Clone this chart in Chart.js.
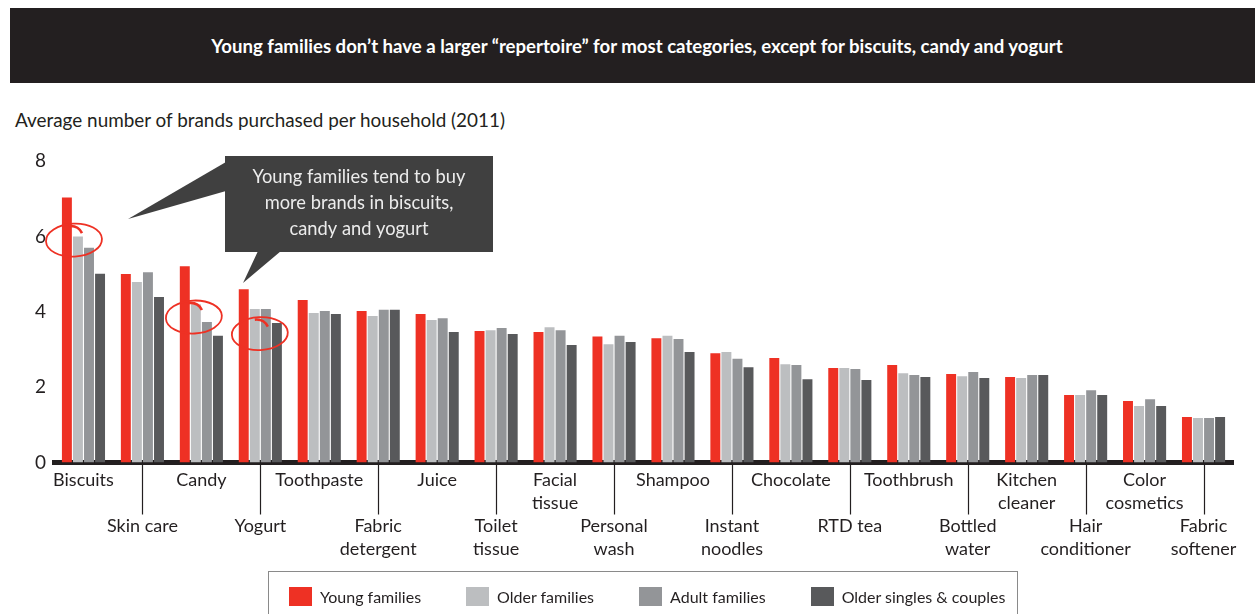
<!DOCTYPE html>
<html>
<head>
<meta charset="utf-8">
<title>Brand repertoire by life stage</title>
<script src="https://cdn.jsdelivr.net/npm/chart.js@4.4.0/dist/chart.umd.min.js"></script>
<style>
  body { margin: 0; width: 1255px; height: 614px; overflow: hidden; background: #fff;
         font-family: Lato, "Noto Sans", sans-serif; color: #231f20; position: relative; }
  #title { position: absolute; left: 10px; top: 8px; width: 1245px; height: 75px; background: #231f20;
           color: #fff; font-weight: bold; font-size: 18.6px; display: flex; align-items: center;
           justify-content: center; padding-left: 9px; box-sizing: border-box; }
  #ylabel { position: absolute; left: 15px; top: 108px; font-size: 18.9px; }
  #chart { position: absolute; left: 0; top: 0; }
  #legend { position: absolute; left: 268px; top: 571px; width: 750px; height: 60px;
            border: 1px solid #8a8a8a; box-sizing: border-box; display: flex; gap: 45px;
            padding: 15px 0 0 20px; }
  .item { font-size: 16px; line-height: 19px; white-space: nowrap; }
  .swatch { display: inline-block; width: 23px; height: 19px; vertical-align: top; margin-right: 8px; }
</style>
</head>
<body>
<div id="title">Young families don’t have a larger “repertoire” for most categories, except for biscuits, candy and yogurt</div>
<div id="ylabel">Average number of brands purchased per household (2011)</div>
<canvas id="chart" width="1255" height="614"></canvas>
<div id="legend"></div>
<script>
// 品类（x轴标签，按行拆分）
const categories = [
    ['Biscuits'], ['Skin care'], ['Candy'], ['Yogurt'], ['Toothpaste'],
    ['Fabric', 'detergent'], ['Juice'], ['Toilet', 'tissue'], ['Facial', 'tissue'], ['Personal', 'wash'],
    ['Shampoo'], ['Instant', 'noodles'], ['Chocolate'], ['RTD tea'], ['Toothbrush'],
    ['Bottled', 'water'], ['Kitchen', 'cleaner'], ['Hair', 'conditioner'], ['Color', 'cosmetics'], ['Fabric', 'softener']
];

const seriesNames = ['Young families', 'Older families', 'Adult families', 'Older singles & couples'];
const seriesColors = ['#ee3124', '#bcbec0', '#939598', '#58595b'];

// 每户平均购买品牌数
const youngFamilies = [7.03, 5.0, 5.21, 4.6, 4.31, 4.02, 3.94, 3.49, 3.46, 3.34, 3.3, 2.9, 2.77, 2.51, 2.59, 2.35, 2.27, 1.79, 1.63, 1.21];
const olderFamilies = [6.0, 4.79, 4.2, 4.07, 3.97, 3.89, 3.78, 3.51, 3.59, 3.14, 3.36, 2.93, 2.61, 2.51, 2.37, 2.29, 2.24, 1.79, 1.5, 1.18];
const adultFamilies = [5.7, 5.05, 3.73, 4.07, 4.02, 4.05, 3.83, 3.57, 3.51, 3.36, 3.28, 2.75, 2.59, 2.48, 2.32, 2.4, 2.32, 1.92, 1.68, 1.18];
const olderSingles = [5.01, 4.39, 3.36, 3.7, 3.94, 4.05, 3.46, 3.41, 3.12, 3.2, 2.93, 2.53, 2.21, 2.19, 2.27, 2.24, 2.32, 1.79, 1.5, 1.21];

const yTicks = [0, 2, 4, 6, 8];

// 被圈出的品类：索引、圆心所在数值、相对于类目中心的横向偏移
const circled = [
    { index: 0, value: 5.9, dx: -9.5 },
    { index: 2, value: 3.86, dx: -7.5 },
    { index: 3, value: 3.42, dx: -0.5 }
];

const calloutLines = ['Young families tend to buy', 'more brands in biscuits,', 'candy and yogurt'];

// 奇数位的标签放到下排：前面垫两行空行
const tickLabels = categories.map((c, i) => (i % 2 === 1 ? ['', ''].concat(c) : c));

// 图例
const legend = document.getElementById('legend');
seriesNames.forEach((name, i) => {
    const item = document.createElement('div');
    item.className = 'item';
    item.innerHTML = `<span class="swatch" style="background:${seriesColors[i]}"></span>${name.replace('&', '&amp;')}`;
    legend.appendChild(item);
});

// 分隔线、圈注和说明框
const annotations = {
    id: 'annotations',
    afterDraw(chart) {
        const ctx = chart.ctx;
        const x = chart.scales.x;
        const y = chart.scales.y;
        const base = y.getPixelForValue(0);

        // 上排标签之间的竖线
        ctx.save();
        ctx.strokeStyle = '#231f20';
        ctx.lineWidth = 1.2;
        categories.forEach((c, i) => {
            if (i % 2 === 1) {
                const px = Math.round(x.getPixelForValue(i)) + 0.5;
                ctx.beginPath();
                ctx.moveTo(px, base + 2);
                ctx.lineTo(px, base + 52);
                ctx.stroke();
            }
        });
        ctx.restore();

        // 红色手绘圈
        ctx.save();
        ctx.strokeStyle = '#ee3124';
        circled.forEach(c => {
            const cx = x.getPixelForValue(c.index) + c.dx;
            const cy = y.getPixelForValue(c.value);
            ctx.lineWidth = 1.8;
            ctx.beginPath();
            ctx.ellipse(cx, cy, 28, 16.5, -0.05, 0, Math.PI * 2);
            ctx.stroke();
            ctx.lineWidth = 2.6;
            ctx.beginPath();
            ctx.moveTo(cx - 5, cy - 14);
            ctx.quadraticCurveTo(cx + 4, cy - 15, cx + 8, cy - 7);
            ctx.stroke();
        });
        ctx.restore();

        // 说明框
        ctx.save();
        ctx.fillStyle = '#404040';
        ctx.fillRect(225, 156, 268, 96);
        ctx.beginPath();
        ctx.moveTo(226, 162);
        ctx.lineTo(128, 219);
        ctx.lineTo(226, 191);
        ctx.closePath();
        ctx.fill();
        ctx.beginPath();
        ctx.moveTo(258, 251);
        ctx.lineTo(243, 283);
        ctx.lineTo(281, 251);
        ctx.closePath();
        ctx.fill();
        ctx.fillStyle = '#ececec';
        ctx.font = '18.3px Lato, "Noto Sans", sans-serif';
        ctx.textAlign = 'center';
        ctx.textBaseline = 'middle';
        calloutLines.forEach((line, i) => ctx.fillText(line, 359, 177 + i * 26));
        ctx.restore();
    }
};

const ctx = document.getElementById('chart').getContext('2d');
const seriesData = [youngFamilies, olderFamilies, adultFamilies, olderSingles];

new Chart(ctx, {
    type: 'bar',
    data: {
        labels: tickLabels,
        datasets: seriesNames.map((name, i) => ({
            label: name,
            data: seriesData[i],
            backgroundColor: seriesColors[i],
            categoryPercentage: 0.75,
            barPercentage: 0.9
        }))
    },
    options: {
        responsive: false,
        animation: false,
        layout: { padding: { left: 0, right: 22, top: 161, bottom: 51.5 } },
        plugins: {
            legend: { display: false },
            tooltip: { enabled: false }
        },
        scales: {
            x: {
                z: 1,
                grid: { display: false, drawTicks: false },
                border: { display: true, width: 5, color: '#231f20' },
                ticks: {
                    autoSkip: false,
                    maxRotation: 0,
                    minRotation: 0,
                    padding: 6,
                    color: '#231f20',
                    font: { family: 'Lato', size: 18, lineHeight: '23px' }
                },
                afterFit: s => { s.height = 100; }
            },
            y: {
                min: 0,
                max: 8,
                grid: { display: false, drawTicks: false },
                border: { display: false },
                afterBuildTicks: s => { s.ticks = yTicks.map(v => ({ value: v })); },
                ticks: {
                    padding: 8,
                    color: '#231f20',
                    font: { family: 'Lato', size: 19 }
                },
                afterFit: s => { s.width = 54; }
            }
        }
    },
    plugins: [annotations]
});
</script>
</body>
</html>
